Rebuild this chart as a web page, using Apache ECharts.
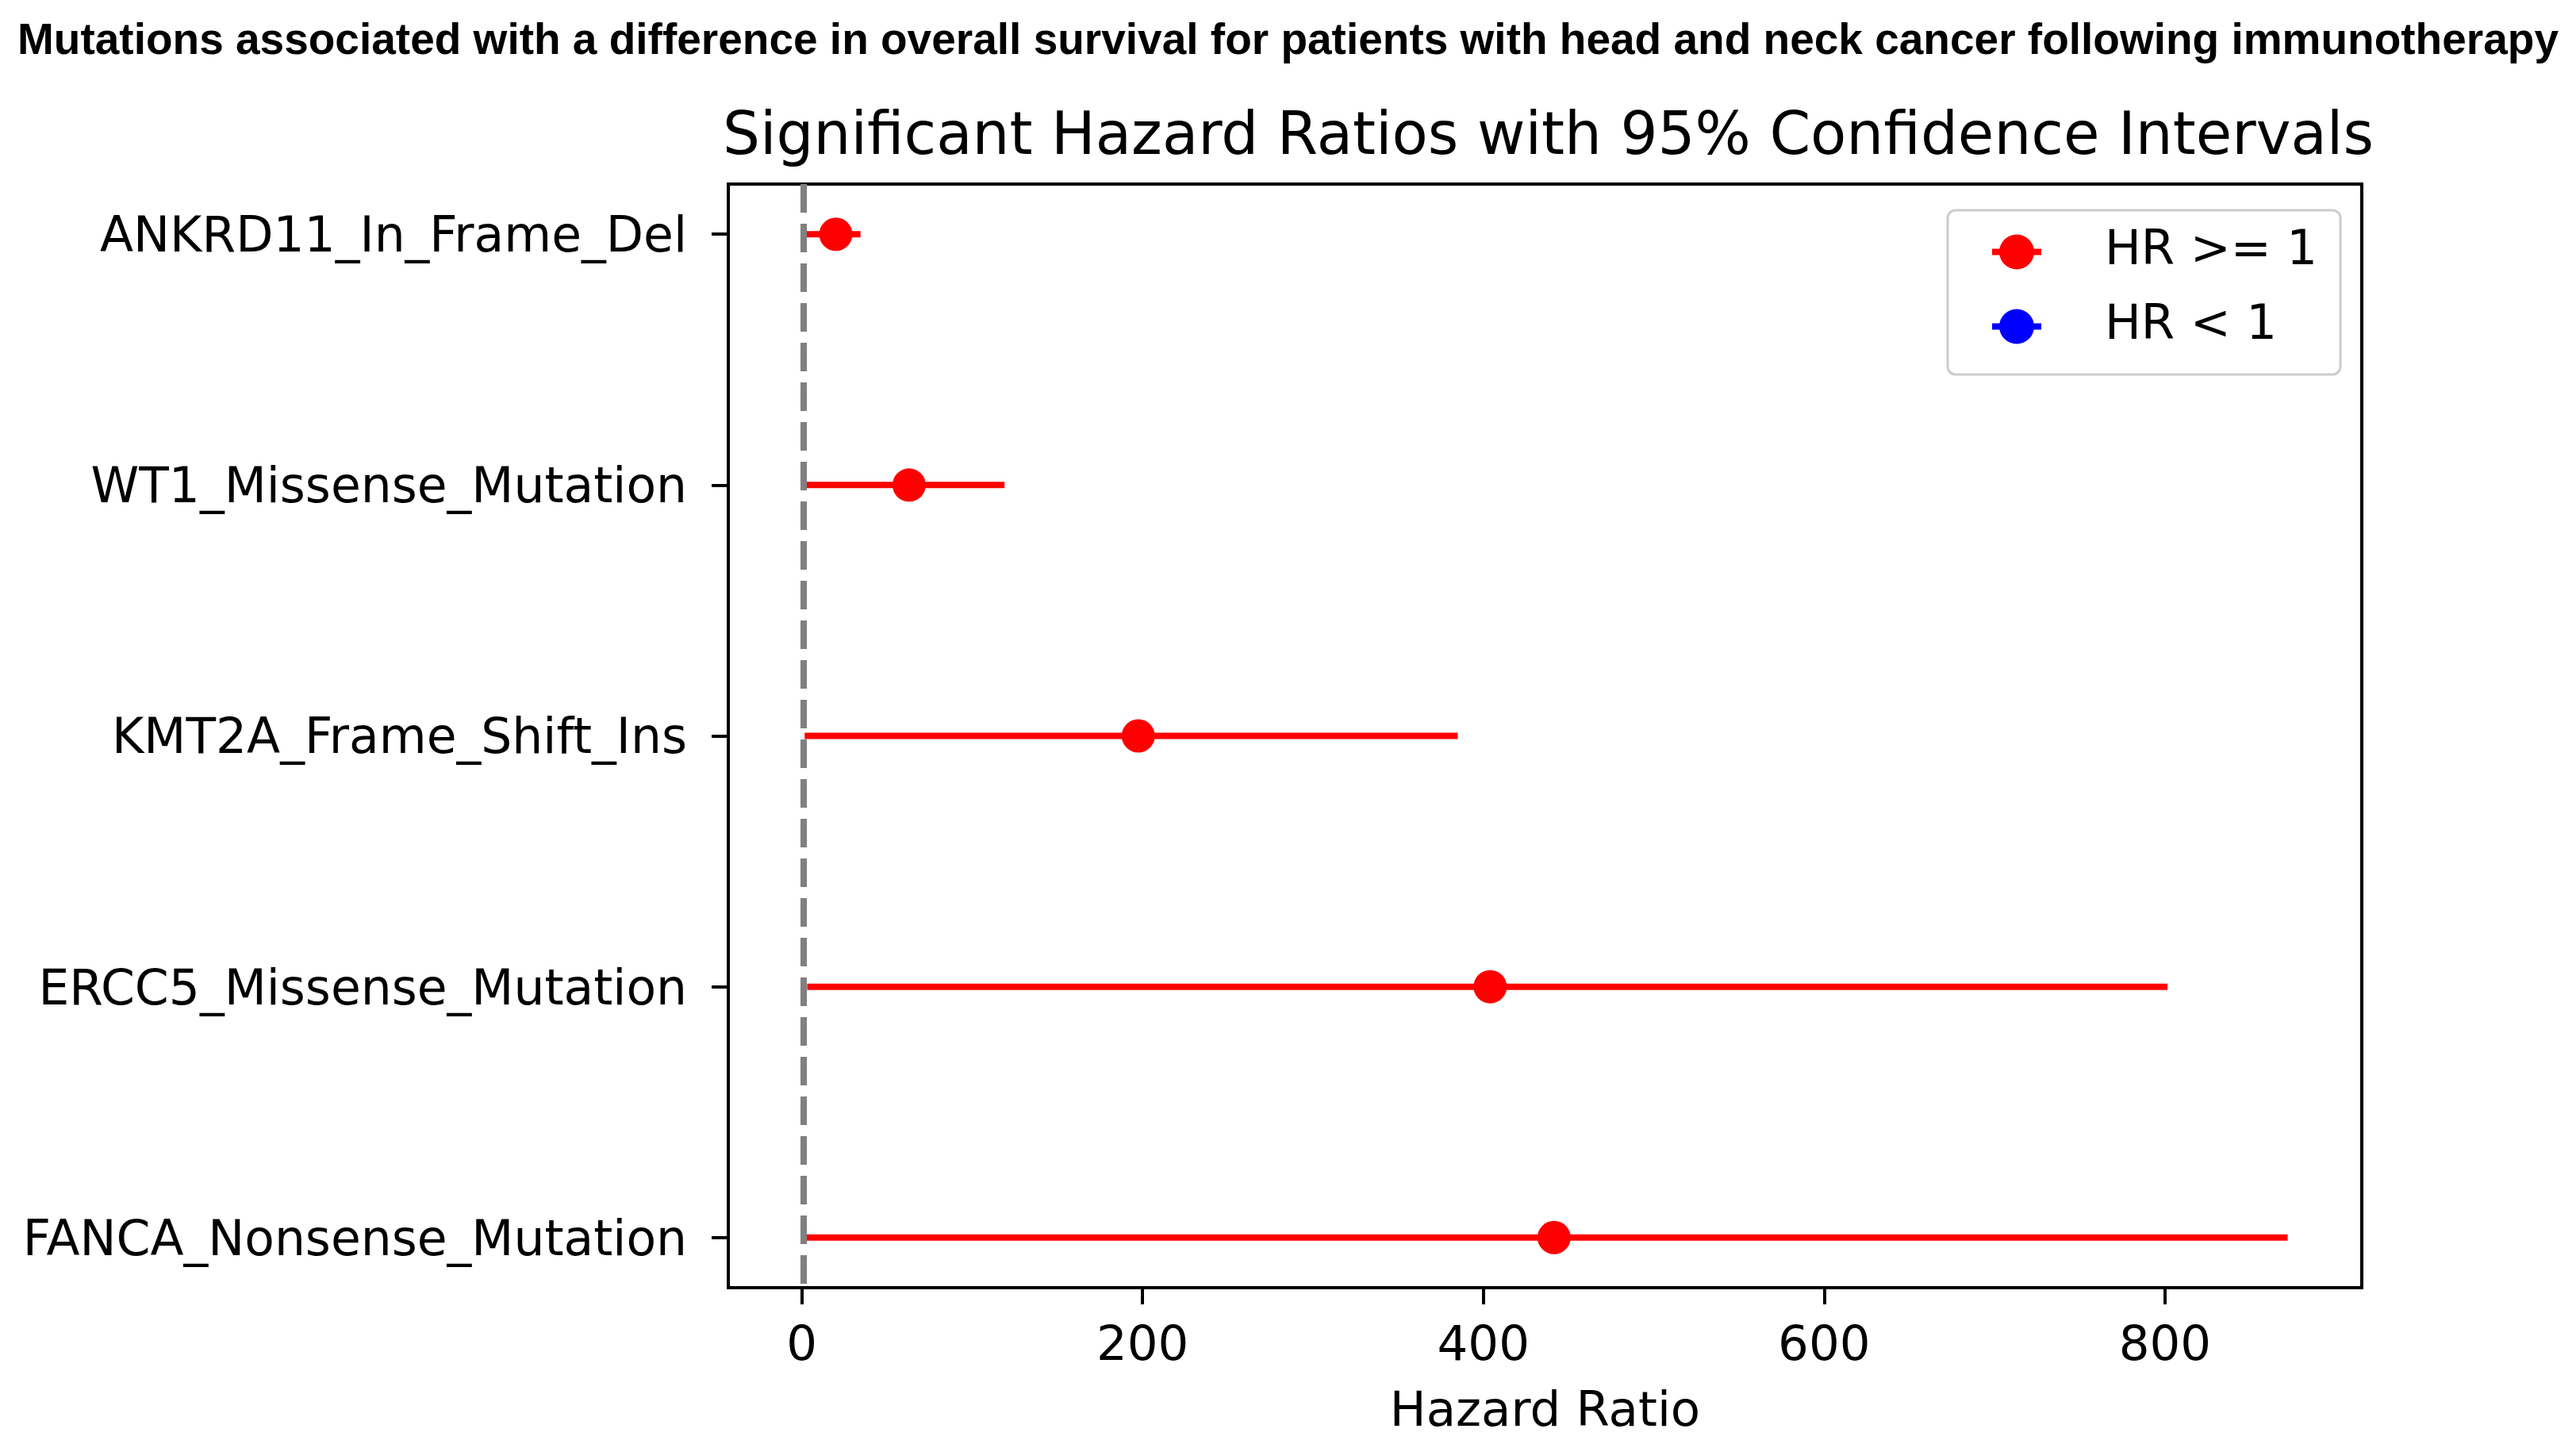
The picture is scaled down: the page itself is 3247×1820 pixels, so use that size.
<!DOCTYPE html>
<html>
<head>
<meta charset="utf-8">
<script src="https://cdn.jsdelivr.net/npm/echarts@6/dist/echarts.min.js"></script>
<style>
html,body{margin:0;padding:0;background:#fff;}
#chart{width:3247px;height:1820px;}
</style>
</head>
<body>
<div id="chart"></div>
<script>
const categories = ['ANKRD11_In_Frame_Del','WT1_Missense_Mutation','KMT2A_Frame_Shift_Ins','ERCC5_Missense_Mutation','FANCA_Nonsense_Mutation'];
const hazardRatio = [20, 63, 197.5, 404, 441.5];
const ciLower = [0.5, 2, 1.7, 3.2, 2];
const ciUpper = [34.5, 119, 385, 801.5, 872];
const xTicks = [0, 200, 400, 600, 800];
const refLine = 1;

const font = 'DejaVu Sans';
const chart = echarts.init(document.getElementById('chart'));

const catIdx = categories.map((c, i) => i);
const ciData = catIdx.map(i => [ciLower[i], ciUpper[i], i]);
const ptData = catIdx.map(i => [hazardRatio[i], i]);

const legendIcon = 'path://M0,18 L62,18 L62,26 L0,26 Z M9,22 A22,22 0 1,1 53,22 A22,22 0 1,1 9,22 Z';

chart.setOption({
  animation: false,
  backgroundColor: '#ffffff',
  title: [
    {text: 'Mutations associated with a difference in overall survival for patients with head and neck cancer following immunotherapy',
     left: 'center', top: 20,
     textStyle: {fontFamily: 'Liberation Sans', fontWeight: 'bold', fontSize: 55, lineHeight: 55, color: '#000'}},
    {text: 'Significant Hazard Ratios with 95% Confidence Intervals',
     left: 906, top: 133,
     textStyle: {fontFamily: font, fontWeight: 'normal', fontSize: 74, lineHeight: 74, color: '#000'}}
  ],
  legend: {
    orient: 'vertical',
    left: 2455, top: 265,
    padding: [22, 29, 30, 56],
    itemGap: 33,
    itemWidth: 62, itemHeight: 44,
    backgroundColor: '#ffffff',
    borderColor: '#cccccc', borderWidth: 3, borderRadius: 10,
    textStyle: {fontFamily: font, fontSize: 61, lineHeight: 60, color: '#000', padding: [0, 0, 0, 75]},
    data: [
      {name: 'HR >= 1', icon: legendIcon, itemStyle: {color: '#ff0000', opacity: 1}},
      {name: 'HR < 1', icon: legendIcon, itemStyle: {color: '#0000ff', opacity: 1}}
    ]
  },
  grid: {left: 918, top: 232, right: 270, bottom: 197, show: true, borderColor: '#000', borderWidth: 4, backgroundColor: '#fff'},
  xAxis: {
    type: 'value', min: -43.1, max: 915.5,
    name: 'Hazard Ratio', nameLocation: 'middle', nameGap: 128,
    nameTextStyle: {fontFamily: font, fontSize: 61, lineHeight: 61, color: '#000'},
    axisLine: {show: true, onZero: false, lineStyle: {color: '#000', width: 4}},
    axisTick: {show: true, length: 21, lineStyle: {color: '#000', width: 4}, customValues: xTicks},
    axisLabel: {fontFamily: font, fontSize: 61, lineHeight: 61, color: '#000', margin: 45, customValues: xTicks},
    splitLine: {show: false}
  },
  yAxis: {
    type: 'value', inverse: true, min: -0.2, max: 4.2,
    axisLine: {show: true, onZero: false, lineStyle: {color: '#000', width: 4}},
    axisTick: {show: true, length: 21, lineStyle: {color: '#000', width: 4}, customValues: catIdx},
    axisLabel: {color: '#000', margin: 52, customValues: catIdx,
      formatter: v => '{c|' + (categories[Math.round(v)] || '') + '}',
      rich: {c: {fontFamily: font, fontSize: 61.5, lineHeight: 62, padding: [12, 0, 0, 0], color: '#000'}}},
    splitLine: {show: false}
  },
  series: [
    {
      name: 'HR >= 1', type: 'custom', data: ciData, z: 2,
      itemStyle: {color: '#ff0000'},
      encode: {x: [0, 1], y: 2},
      renderItem: (params, api) => {
        const p1 = api.coord([api.value(0), api.value(2)]);
        const p2 = api.coord([api.value(1), api.value(2)]);
        return {type: 'line', shape: {x1: p1[0], y1: p1[1], x2: p2[0], y2: p2[1]},
                style: {stroke: '#ff0000', lineWidth: 8}};
      },
      markLine: {
        silent: true, symbol: 'none', z: 3,
        label: {show: false},
        lineStyle: {color: '#808080', width: 8, type: [36, 14], opacity: 1},
        data: [{xAxis: refLine}]
      }
    },
    {
      name: 'HR >= 1', type: 'scatter', data: ptData, z: 4,
      symbol: 'circle', symbolSize: 42,
      itemStyle: {color: '#ff0000', opacity: 1}
    },
    {
      name: 'HR < 1', type: 'scatter', data: [],
      symbol: 'circle', symbolSize: 42,
      itemStyle: {color: '#0000ff', opacity: 1}
    }
  ]
});
</script>
</body>
</html>
